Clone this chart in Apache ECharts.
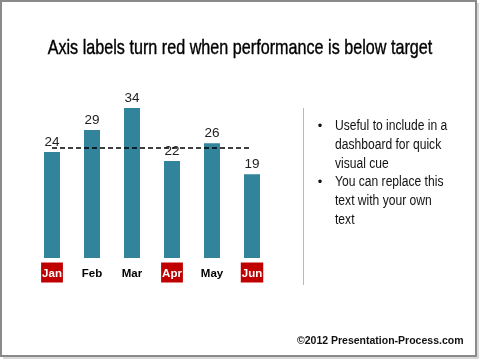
<!DOCTYPE html>
<html>
<head>
<meta charset="utf-8">
<script src="https://cdn.jsdelivr.net/npm/echarts@6/dist/echarts.min.js"></script>
<style>html,body{margin:0;padding:0;background:#fff}#c{width:480px;height:360px}</style>
</head>
<body>
<div id="c"></div>
<script>
var titleText = 'Axis labels turn red when performance is below target';
var months = ['Jan', 'Feb', 'Mar', 'Apr', 'May', 'Jun'];
var values = [24, 29, 34, 22, 26, 19];
var target = 25;
var bullets = [
  ['Useful to include in a', 'dashboard for quick', 'visual cue'],
  ['You can replace this', 'text with your own', 'text']
];
var footer = '\u00a92012 Presentation-Process.com';

var FONT = '"Liberation Sans", Arial, sans-serif';
var chart = echarts.init(document.getElementById('c'), null, {renderer: 'canvas'});

var graphics = [
  {type: 'rect', shape: {x: 3, y: 3, width: 476, height: 356}, style: {fill: '#d8d8d8'}, silent: true, z: -2},
  {type: 'rect', shape: {x: 1, y: 1, width: 475, height: 355}, style: {fill: '#fff', stroke: '#8a8a8a', lineWidth: 2}, silent: true, z: -1},
  {type: 'line', shape: {x1: 303.5, y1: 108, x2: 303.5, y2: 285}, style: {stroke: '#b8b8b8', lineWidth: 1}, silent: true},
  {type: 'text', x: 240, y: 48, scaleX: 0.77, style: {text: titleText, font: '21px ' + FONT, fill: '#000', stroke: '#000', lineWidth: 0.4, align: 'center', verticalAlign: 'middle'}},
  {type: 'text', left: 297, top: 336, style: {text: footer, font: 'bold 10.5px ' + FONT, fill: '#111'}}
];
var lineH = 18.7;
var row = 0;
bullets.forEach(function (b) {
  graphics.push({type: 'text', x: 320, y: 126 + row * lineH, style: {text: '\u2022', font: '13px ' + FONT, fill: '#111', align: 'center', verticalAlign: 'middle'}});
  b.forEach(function (line) {
    graphics.push({type: 'text', x: 335, y: 126 + row * lineH, scaleX: 0.78, style: {text: line, font: '15.5px ' + FONT, fill: '#111', verticalAlign: 'middle'}});
    row++;
  });
});

chart.setOption({
  animation: false,
  grid: {left: 32, right: 208, top: 81.5, bottom: 102},
  xAxis: {
    type: 'category',
    data: months,
    axisLine: {show: false},
    axisTick: {show: false},
    axisLabel: {
      interval: 0,
      margin: 8,
      formatter: function (v, i) {
        return values[i] < target ? '{bad|' + v + '}' : '{ok|' + v + '}';
      },
      rich: {
        bad: {color: '#fff', backgroundColor: '#c00000', fontFamily: FONT, fontWeight: 'bold', fontSize: 11.5, lineHeight: 13, padding: [5, 1, 3, 1]},
        ok: {color: '#000', fontFamily: FONT, fontWeight: 'bold', fontSize: 11.5, lineHeight: 13, padding: [5, 1, 3, 1]}
      }
    }
  },
  yAxis: {type: 'value', min: 0, max: 40, show: false, splitLine: {show: false}},
  series: [{
    type: 'bar',
    data: values,
    barWidth: 16,
    itemStyle: {color: '#31849b'},
    label: {show: true, position: 'top', distance: 3, color: '#222', fontSize: 13.5, fontFamily: FONT},
    markLine: {
      silent: true,
      symbol: 'none',
      label: {show: false},
      lineStyle: {color: '#000', type: [5, 3], width: 1.5},
      data: [[{coord: [0, target]}, {coord: [5, target]}]]
    }
  }],
  graphic: graphics
});
</script>
</body>
</html>
